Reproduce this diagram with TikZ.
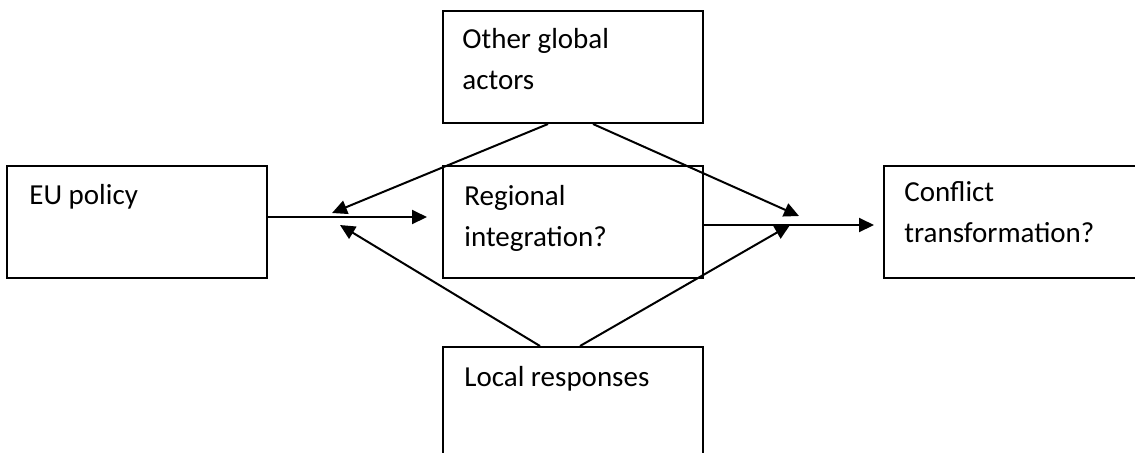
\documentclass[tikz,border=0pt]{standalone}
\usepackage{fontspec}
\setmainfont{Carlito}
\usetikzlibrary{arrows.meta,calc,positioning}

\begin{document}
\begin{tikzpicture}[x=0.5pt,y=-0.5pt,
  >={Triangle[length=7.5pt,width=7pt]},
  box/.style={rectangle, draw, line width=1pt, minimum width=130pt, minimum height=56pt},
  lbl/.style={anchor=base west, inner sep=0pt, align=left, font=\fontsize{14.5}{20.25}\selectfont},
  arr/.style={->, line width=1pt}]
  \path[use as bounding box, clip] (0,0) rectangle (1135,452);

  \node[box]                          (reg)   at (573,222) {};
  \node[box, left=87pt of reg]        (eu)    {};
  \node[box, right=89.5pt of reg]     (conf)  {};
  \node[box, above=20.5pt of reg]     (other) {};
  \node[box, below=33.5pt of reg]     (local) {};

  % base = last line
  \node[lbl] (eutxt)    at ($(eu.north west)+(23,39)$)    {EU policy};
  \node[lbl] (regtxt)   at ($(reg.north west)+(22,81)$)   {Regional\\integration?};
  \node[lbl] (conftxt)  at ($(conf.north west)+(21,77)$)  {Conflict\\transformation?};
  \node[lbl] (othertxt) at ($(other.north west)+(20,79)$) {Other global\\actors};
  \node[lbl] (localtxt) at ($(local.north west)+(22,40)$) {Local responses};

  % arrow ends
  \coordinate (inreg)  at ($(reg.west)+(-15,-5)$);
  \coordinate (ineu1)  at (332,213);
  \coordinate (ineu2)  at (340,225);
  \coordinate (inc1)   at (799,216);
  \coordinate (inc2)   at (790,225);
  \coordinate (inconf) at ($(conf.west)+(-9,3)$);

  \draw[arr] ($(eu.east)+(0,-5)$) -- (inreg);
  \draw[arr] ($(other.south)+(-25,0)$) -- (ineu1);
  \draw[arr] ($(local.north)+(-33,0)$) -- (ineu2);
  \draw[arr] ($(other.south)+(20,0)$) -- (inc1);
  \draw[arr] ($(local.north)+(7,0)$) -- (inc2);
  \draw[arr] ($(reg.east)+(0,3)$) -- (inconf);
\end{tikzpicture}
\end{document}
